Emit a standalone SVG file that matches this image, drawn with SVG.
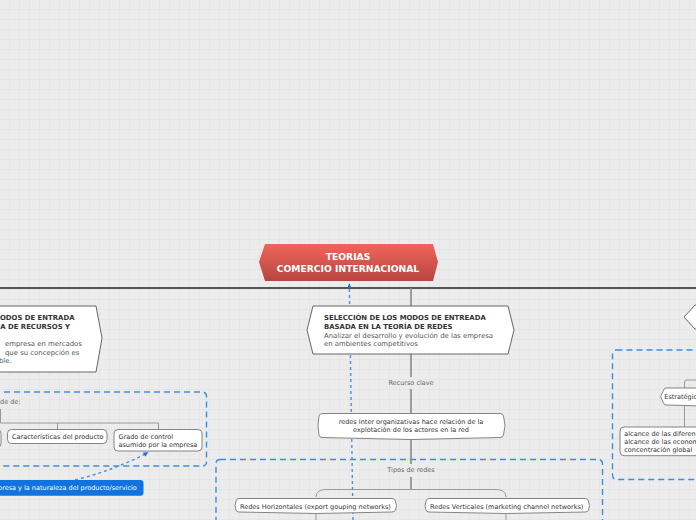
<svg xmlns="http://www.w3.org/2000/svg" width="696" height="520" viewBox="0 0 696 520">
<defs>
<pattern id="grid" width="10" height="10" patternUnits="userSpaceOnUse">
<rect width="10" height="10" fill="#ececec"/>
<path d="M10 0V10M0 10H10" stroke="#e1e1e1" stroke-width="1" fill="none"/>
</pattern>
<linearGradient id="red" x1="0" y1="0" x2="0" y2="1">
<stop offset="0" stop-color="#f0655c"/>
<stop offset="1" stop-color="#b6463f"/>
</linearGradient>
<marker id="arr" viewBox="0 0 10 10" refX="9" refY="5" markerWidth="5" markerHeight="5" orient="auto" markerUnits="userSpaceOnUse">
<path d="M0 0L10 5L0 10Z" fill="#2a6fcf"/>
</marker>
</defs>
<style>
text{font-family:"DejaVu Sans","Verdana",sans-serif;}
.t{font-size:6.5px;fill:#333;}
.lbl{font-size:6.5px;fill:#666;}
.hb{font-size:6.9px;font-weight:bold;fill:#333;}
.hr{font-size:6.9px;fill:#555;}
.node{fill:#fff;stroke:#666;stroke-width:1;}
.sub{fill:#fff;stroke:#777;stroke-width:0.9;}
.box{fill:none;stroke:#3b8de3;stroke-width:1.4;stroke-dasharray:6 4;}
.br{fill:none;stroke:#999;stroke-width:1;}
.trunk{fill:none;stroke:#8a8a8a;stroke-width:1.6;}
.rel{fill:none;stroke:#4a92e6;stroke-width:1.4;stroke-dasharray:3 3;}
</style>
<rect width="696" height="520" fill="url(#grid)"/>

<g id="boxes">
<rect class="box" x="-20" y="392" width="226.5" height="74" rx="4"/>
<rect class="box" x="216" y="459.5" width="386.5" height="80" rx="4"/>
<rect class="box" x="612.5" y="350" width="100" height="129.5" rx="4"/>
</g>

<g id="connectors">
<path d="M0 288H696" stroke="#555" stroke-width="2" fill="none"/>
<path class="trunk" d="M411 288V306" stroke="#666"/>
<path class="trunk" d="M411 354V377M411 389V413M411 439V464M411 477V490"/>
<path class="br" d="M316 497Q316 489.5 326 489.5H496Q506 489.5 506 497"/>
<path class="br" d="M316 513V520M506 513V520"/>
<path class="br" d="M0.5 409V423H158.5V429M57.5 423V429.5"/>
<path class="br" d="M684.5 388V382Q684.5 380 687 380H700M684.5 405V427"/>
<path class="rel" d="M353 520L349.3 284" marker-end="url(#arr)"/>
<path class="rel" d="M75 480Q115 470 148 452.5" marker-end="url(#arr)"/>
</g>

<g id="main">
<path d="M259 262L265 244H433L438 262L433 281H265Z" fill="url(#red)"/>
<text x="348" y="260.3" text-anchor="middle" font-size="9.2" font-weight="bold" fill="#fff">TEORIAS</text>
<text x="348" y="271.6" text-anchor="middle" font-size="9.2" font-weight="bold" fill="#fff">COMERCIO INTERNACIONAL</text>
</g>

<g id="left-node">
<path class="node" d="M-20 306H96L102 338L96 372H-20Z"/>
<text class="hb" x="0" y="320.3">ODOS DE ENTRADA</text>
<text class="hb" x="0.3" y="328.8">A DE RECURSOS Y</text>
<text class="hr" x="5" y="346">empresa en mercados</text>
<text class="hr" x="5" y="354.5">que su concepción es</text>
<text class="hr" x="-1" y="363">ble.</text>
</g>

<g id="center-node">
<path class="node" d="M313 306H508L514 330L508 354H313L307 330Z"/>
<text class="hb" x="324" y="320.2">SELECCIÓN DE LOS MODOS DE ENTREADA</text>
<text class="hb" x="324" y="329.2">BASADA EN LA TEORÍA DE REDES</text>
<text class="hr" x="324" y="337.5">Analizar el desarrollo y evolución de las empresa</text>
<text class="hr" x="324" y="346.3">en ambientes competitivos</text>
</g>

<g id="right-node">
<path class="node" d="M700 305H695L684 317L695 329H700Z"/>
</g>

<g id="lbl-recurso"><text class="lbl" x="411" y="385" text-anchor="middle">Recurso clave</text></g>

<g id="redes-inter">
<path class="sub" d="M323 413.5H500Q503 413.5 503.5 416L505 425.5L503.5 435Q503 437.5 500 437.5L411 439.5L322 437.5Q319.5 437.5 319 435L318 425.5L319 416Q319.5 413.5 323 413.5Z"/>
<text class="t" x="411" y="424" text-anchor="middle">redes Inter organizativas hace relación de la</text>
<text class="t" x="411" y="431.6" text-anchor="middle">explotación de los actores en la red</text>
</g>

<g id="lbl-tipos"><text class="lbl" x="411" y="472.3" text-anchor="middle">Tipos de redes</text></g>

<g id="redes-h">
<path class="sub" d="M239 498.5H392Q395 498.5 395.5 501L396.5 505.5L395.5 510Q395 512 392 512L316 513.5L239 512Q236.5 512 236 510L235 505.5L236 501Q236.5 498.5 239 498.5Z"/>
<text class="t" x="240" y="508.9">Redes Horizontales (export gouping networks)</text>
</g>

<g id="redes-v">
<path class="sub" d="M429 498.5H585Q588 498.5 588.5 501L589.5 505.5L588.5 510Q588 512 585 512L506.5 513.5L429 512Q426.5 512 426 510L425 505.5L426 501Q426.5 498.5 429 498.5Z"/>
<text class="t" x="430" y="508.9">Redes Verticales (marketing channel networks)</text>
</g>

<g id="lbl-dede"><text class="lbl" x="0" y="404">de de:</text></g>

<g id="left-leaf">
<rect class="sub" x="-30" y="429.5" width="31" height="18" rx="4"/>
</g>

<g id="caracteristicas">
<rect class="sub" x="7.5" y="429.5" width="99.5" height="14" rx="4"/>
<text class="t" x="12" y="438.8">Características del producto</text>
</g>

<g id="grado">
<rect class="sub" x="114" y="429.5" width="88" height="21.5" rx="4"/>
<text class="t" x="118.5" y="439">Grado de control</text>
<text class="t" x="118.5" y="447.3">asumido por la empresa</text>
</g>

<g id="blue-node">
<rect x="-20" y="480" width="163.5" height="15.7" rx="3" fill="#1173dd"/>
<text x="-2" y="490.2" font-size="6.5" fill="#fff">presa y la naturaleza del producto/servicio</text>
</g>

<g id="estrategic">
<path class="sub" d="M666 388H700V406L686 405.5L666 405Q664 405 663.5 403L660.5 396.7L663.5 390.5Q664 388 666 388Z"/>
<text class="t" x="664.3" y="399">Estratégic</text>
</g>

<g id="alcance">
<rect class="sub" x="620" y="427" width="90" height="28.7" rx="4"/>
<text class="t" x="624.3" y="436.3">alcance de las diferenc</text>
<text class="t" x="624.3" y="444">alcance de las econom</text>
<text class="t" x="624.3" y="451.6">concentración global</text>
</g>
</svg>
